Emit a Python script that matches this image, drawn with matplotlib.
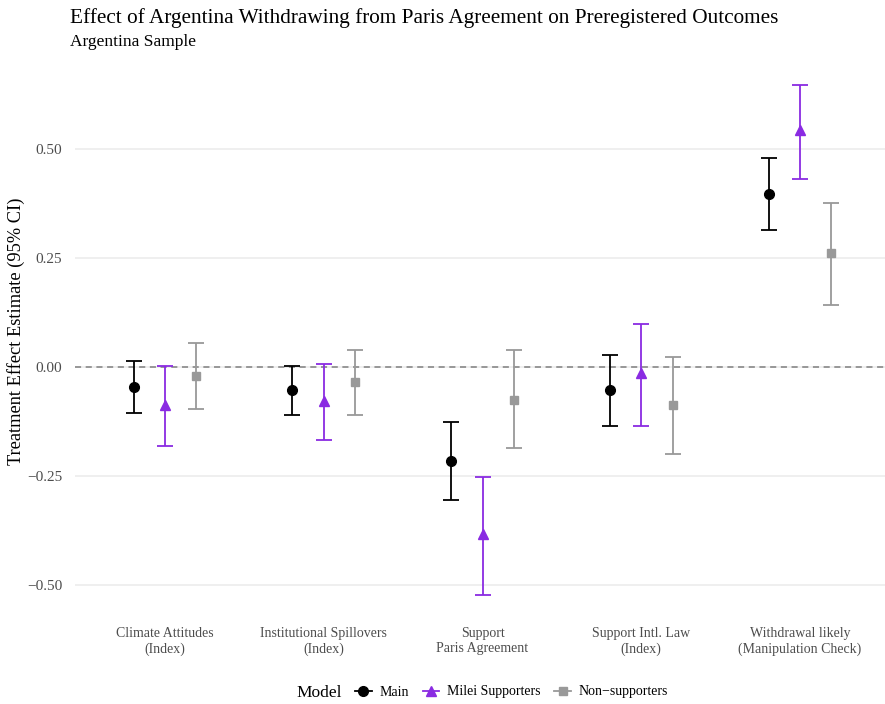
import numpy as np
import matplotlib.pyplot as plt
from matplotlib.lines import Line2D

plt.rcParams['font.family'] = ['Liberation Serif', 'DejaVu Serif']

# outcomes on the x axis
outcomes = ["Climate Attitudes\n(Index)", "Institutional Spillovers\n(Index)",
            "Support\nParis Agreement", "Support Intl. Law\n(Index)",
            "Withdrawal likely\n(Manipulation Check)"]

models = ["Main", "Milei Supporters", "Non\u2212supporters"]

# estimates and 95% CI bounds, one list per model
main_est = [-0.046, -0.053, -0.216, -0.053, 0.397]
main_lo = [-0.105, -0.110, -0.305, -0.135, 0.314]
main_hi = [0.014, 0.002, -0.126, 0.028, 0.479]

milei_est = [-0.087, -0.078, -0.383, -0.014, 0.544]
milei_lo = [-0.181, -0.167, -0.523, -0.135, 0.433]
milei_hi = [0.002, 0.007, -0.252, 0.099, 0.647]

non_est = [-0.021, -0.034, -0.076, -0.087, 0.261]
non_lo = [-0.096, -0.110, -0.186, -0.200, 0.142]
non_hi = [0.055, 0.039, 0.039, 0.023, 0.378]

series = [
    (main_est, main_lo, main_hi, "black", "o", -0.198),
    (milei_est, milei_lo, milei_hi, "#8A2BE2", "^", 0.0),
    (non_est, non_lo, non_hi, "#999999", "s", 0.198),
]

fig = plt.figure(figsize=(8.85, 7.04), dpi=100)
ax = fig.add_axes([75 / 885, 84 / 704, 810 / 885, 560 / 704])

x = np.arange(1, len(outcomes) + 1)

# horizontal grid and zero reference
for yv in [-0.5, -0.25, 0, 0.25, 0.5]:
    ax.axhline(yv, color="#ebebeb", lw=1.1, zorder=0)
ax.axhline(0, color="#7f7f7f", lw=1.1, ls=(0, (4, 3)), zorder=1)

for est, lo, hi, col, mk, off in series:
    est = np.array(est)
    yerr = [est - np.array(lo), np.array(hi) - est]
    ax.errorbar(x + off, est, yerr=yerr, fmt="none", ecolor=col,
                elinewidth=1.3, capsize=5.5, capthick=1.3, zorder=2)
    ax.plot(x + off, est, linestyle="none", marker=mk, color=col,
            markersize=7 if mk != "s" else 6.3, zorder=3)

ax.set_xlim(0.433, 5.535)
ax.set_ylim(-0.58, 0.705)
ax.set_xticks(x)
ax.set_xticklabels(outcomes, fontsize=10, color="#4d4d4d", linespacing=1.25)
ax.set_yticks([-0.5, -0.25, 0, 0.25, 0.5])
ax.set_yticklabels(["\u22120.50", "\u22120.25", "0.00", "0.25", "0.50"],
                   fontsize=11, color="#4d4d4d")
ax.tick_params(axis="x", length=0, pad=5)
ax.tick_params(axis="y", length=0, pad=9)
for s in ax.spines.values():
    s.set_visible(False)

# y axis title
fig.text(16 / 885, 1 - 331 / 704, "Treatment Effect Estimate (95% CI)", fontsize=13.2,
         rotation=90, va="center", ha="center")

fig.text(70 / 885, 1 - 18 / 704, "Effect of Argentina Withdrawing from Paris Agreement on Preregistered Outcomes",
         fontsize=15.3, va="center", ha="left")
fig.text(70 / 885, 1 - 42 / 704, "Argentina Sample", fontsize=12.5, va="center", ha="left")

# legend along the bottom
fig.text(296 / 885, 1 - 693 / 704, "Model", fontsize=12.5, va="center", ha="left")
handles = [Line2D([0], [0], color=c, marker=m, lw=1.3,
                  markersize=7 if m != "s" else 6.3)
           for _, _, _, c, m, _ in series]
fig.legend(handles, models, loc="center left", bbox_to_anchor=(355 / 885, 1 - 692 / 704),
           ncol=3, frameon=False, fontsize=10, handlelength=1.2, handletextpad=0.55,
           columnspacing=1.0, borderaxespad=0, borderpad=0)

fig.savefig("out.png", dpi=100, facecolor="white")
